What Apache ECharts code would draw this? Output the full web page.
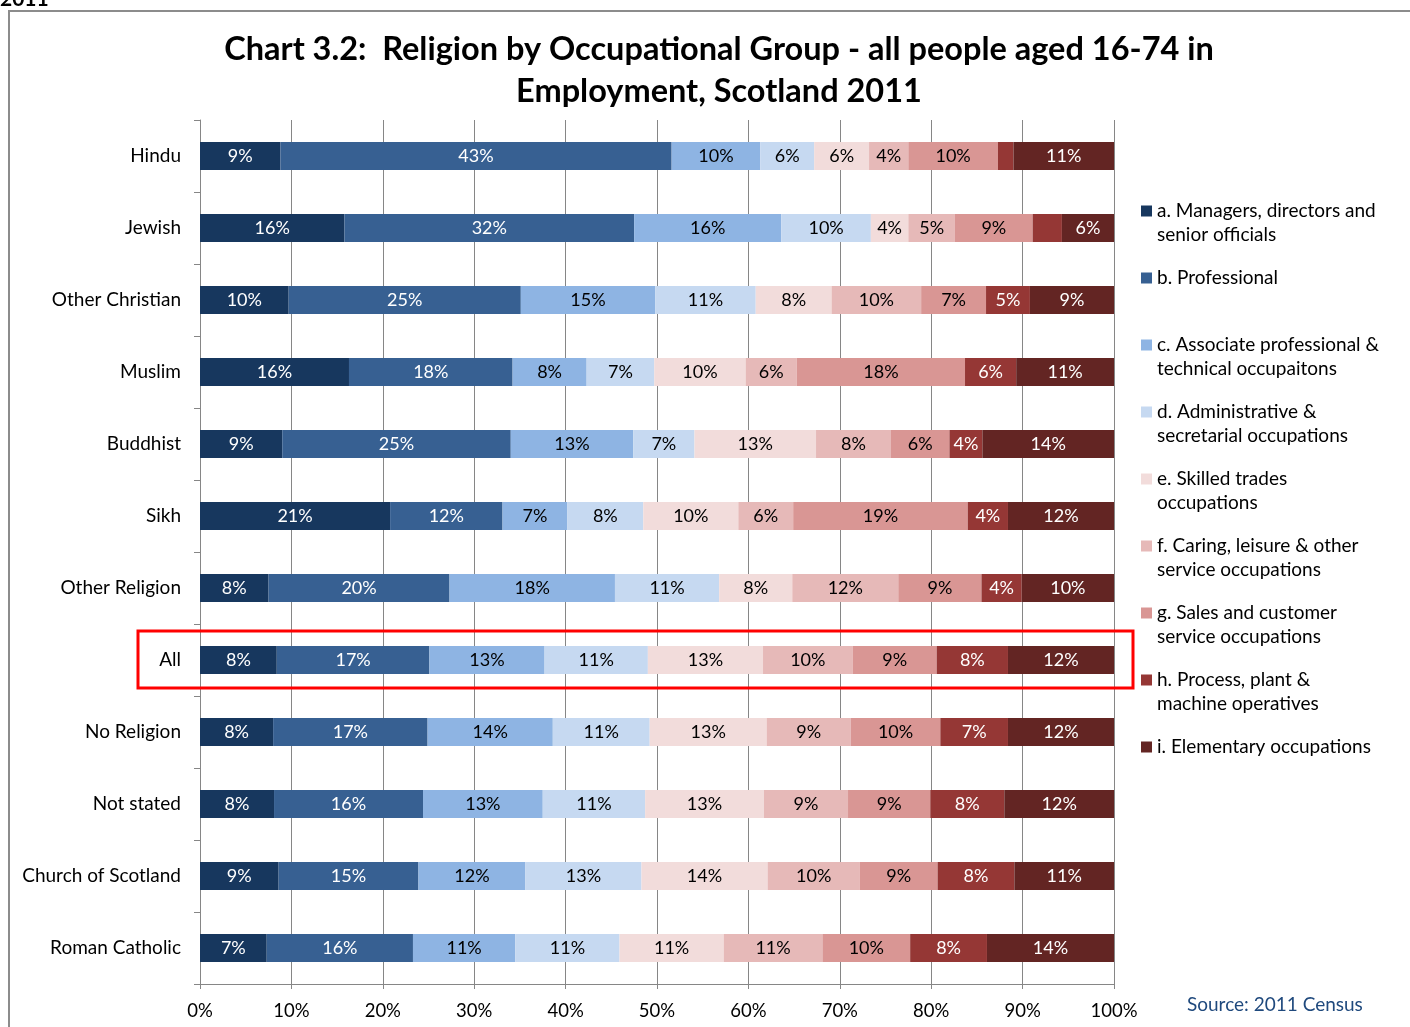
<!DOCTYPE html>
<html lang="en">
<head>
    <meta charset="UTF-8">
    <title>Religion by Occupational Group</title>
    <script src="https://cdn.jsdelivr.net/npm/echarts@6/dist/echarts.min.js"></script>
    <style>
        html, body { margin: 0; padding: 0; background: #fff; }
    </style>
</head>
<body>
<div id="main" style="width: 1410px;height:1027px;"></div>
<script type="text/javascript">
    // religions, top to bottom
    var categories = ['Hindu', 'Jewish', 'Other Christian', 'Muslim', 'Buddhist', 'Sikh', 'Other Religion',
        'All', 'No Religion', 'Not stated', 'Church of Scotland', 'Roman Catholic'];

    // share of each occupational group (%), same order as categories
    var managers     = [8.8, 15.8, 9.7, 16.3, 9.0, 20.8, 7.5, 8.4, 8.0, 8.1, 8.6, 7.3];
    var professional = [42.8, 31.7, 25.4, 17.9, 25.0, 12.3, 19.8, 16.7, 16.9, 16.3, 15.3, 16.0];
    var associate    = [9.7, 16.1, 14.7, 8.1, 13.4, 7.1, 18.1, 12.6, 13.7, 13.1, 11.7, 11.2];
    var admin        = [5.9, 9.8, 11.0, 7.4, 6.7, 8.3, 11.4, 11.3, 10.6, 11.2, 12.7, 11.4];
    var skilled      = [6.0, 4.1, 8.3, 10.0, 13.3, 10.4, 8.0, 12.6, 12.8, 13.0, 13.8, 11.4];
    var caring       = [4.3, 5.1, 9.8, 5.6, 8.2, 6.0, 11.6, 9.8, 9.2, 9.2, 10.1, 10.8];
    var sales        = [9.8, 8.5, 7.1, 18.4, 6.4, 19.1, 9.1, 9.2, 9.8, 9.0, 8.5, 9.6];
    var process      = [1.7, 3.2, 4.8, 5.6, 3.6, 4.4, 4.4, 7.8, 7.4, 8.1, 8.4, 8.4];
    var elementary   = [11.0, 5.7, 9.2, 10.7, 14.4, 11.6, 10.1, 11.6, 11.6, 12.0, 10.9, 13.9];

    var groupNames = [
        'a. Managers, directors and senior officials',
        'b. Professional',
        'c. Associate professional & technical occupaitons',
        'd. Administrative & secretarial occupations',
        'e. Skilled trades occupations',
        'f. Caring, leisure & other service occupations',
        'g. Sales and customer service occupations',
        'h. Process, plant & machine operatives',
        'i. Elementary occupations'
    ];
    // how the legend wraps each name
    var legendLines = [
        ['a. Managers, directors and', 'senior officials'],
        ['b. Professional', ''],
        ['c. Associate professional &', 'technical occupaitons'],
        ['d. Administrative &', 'secretarial occupations'],
        ['e. Skilled trades', 'occupations'],
        ['f. Caring, leisure & other', 'service occupations'],
        ['g. Sales and customer', 'service occupations'],
        ['h. Process, plant &', 'machine operatives'],
        ['i. Elementary occupations', '']
    ];
    var groupData = [managers, professional, associate, admin, skilled, caring, sales, process, elementary];
    var colors = ['#17375E', '#376092', '#8EB4E3', '#C6D9F1', '#F2DCDB', '#E6B9B8', '#D99694', '#953735', '#632523'];
    var labelColors = ['#fff', '#fff', '#000', '#000', '#000', '#000', '#000', '#fff', '#fff'];

    var FONT = 'Lato';

    var myChart = echarts.init(document.getElementById('main'));

    var series = [];
    for (var i = 0; i < groupNames.length; i++) {
        series.push({
            name: groupNames[i],
            type: 'bar',
            stack: 'total',
            barWidth: 28,
            itemStyle: {color: colors[i]},
            label: {
                show: true,
                position: 'inside',
                color: labelColors[i],
                fontFamily: FONT,
                fontSize: 18,
                padding: [3, 0, 0, 0],
                formatter: function (p) {
                    return p.value < 3.4 ? '' : Math.round(p.value) + '%';
                }
            },
            data: groupData[i]
        });
    }

    var option = {
        animation: false,
        color: colors,
        title: {
            text: 'Chart 3.2:  Religion by Occupational Group - all people aged 16-74 in\nEmployment, Scotland 2011',
            left: 714,
            top: 24,
            textAlign: 'center',
            textStyle: {fontFamily: FONT, fontSize: 32.5, fontWeight: 'bold', color: '#000', lineHeight: 42}
        },
        legend: {
            orient: 'vertical',
            left: 1141,
            top: 175,
            padding: 0,
            itemGap: -5,
            itemWidth: 11,
            itemHeight: 11,
            icon: 'rect',
            data: groupNames,
            formatter: function (name) {
                var l = legendLines[groupNames.indexOf(name)];
                return '\n' + l[0] + '\n' + l[1];
            },
            textStyle: {fontFamily: FONT, fontSize: 19, color: '#000', lineHeight: 24}
        },
        grid: {left: 200, right: 296, top: 120, bottom: 43},
        xAxis: {
            type: 'value',
            min: 0,
            max: 100,
            interval: 10,
            axisLine: {show: true, lineStyle: {color: '#868686'}},
            axisTick: {show: true, length: 5, lineStyle: {color: '#868686'}},
            axisLabel: {formatter: '{value}%', fontFamily: FONT, fontSize: 18.5, color: '#000', margin: 18},
            splitLine: {lineStyle: {color: '#868686', width: 1}}
        },
        yAxis: {
            type: 'category',
            inverse: true,
            data: categories,
            axisLine: {show: true, lineStyle: {color: '#868686'}},
            axisTick: {show: true, length: 6, lineStyle: {color: '#868686'}},
            axisLabel: {fontFamily: FONT, fontSize: 19, color: '#000', margin: 19}
        },
        series: series
    };

    myChart.setOption(option);

    // box round the "All" row, placed from the axes
    var cy = myChart.convertToPixel({yAxisIndex: 0}, 'All');
    var x0 = myChart.convertToPixel({xAxisIndex: 0}, 0);
    var x100 = myChart.convertToPixel({xAxisIndex: 0}, 100);

    myChart.setOption({
        graphic: [
            {
                type: 'rect', silent: true, z: -1,
                shape: {x: 9, y: 11, width: 1500, height: 1100},
                style: {fill: 'none', stroke: '#8c8c8c', lineWidth: 2}
            },
            {
                type: 'text', left: 0, top: -11,
                style: {text: '2011', fontFamily: FONT, fontSize: 21, fontWeight: 'bold', fill: '#000'}
            },
            {
                type: 'rect', silent: true, z: 100,
                shape: {x: x0 - 62, y: cy - 29, width: x100 - x0 + 81, height: 57},
                style: {fill: 'none', stroke: '#ff0000', lineWidth: 3}
            },
            {
                type: 'text', left: 1187, top: 995,
                style: {text: 'Source: 2011 Census', fontFamily: FONT, fontSize: 19, fill: '#1F497D'}
            }
        ]
    });
</script>
</body>
</html>
